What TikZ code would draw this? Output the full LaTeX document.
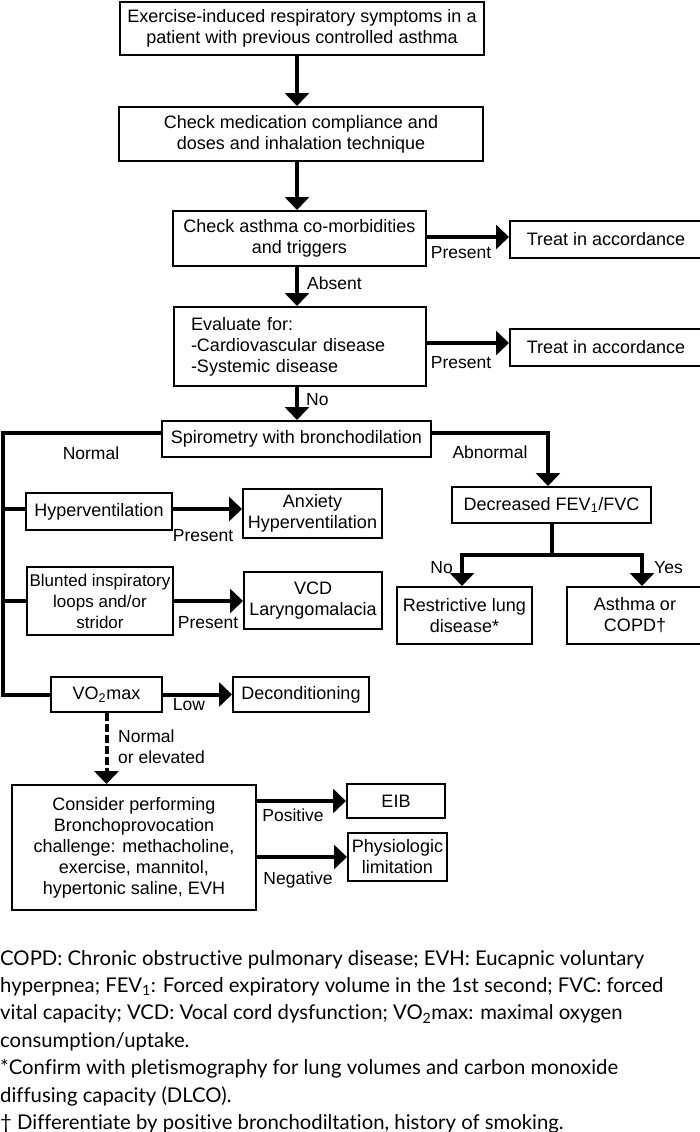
\documentclass[tikz,border=0pt]{standalone}
\usepackage{fontspec}
\setmainfont{Liberation Sans}
\newfontfamily\notefont[Ligatures=NoCommon]{Lato}
\usetikzlibrary{arrows.meta}

\begin{document}
\begin{tikzpicture}[x=1pt, y=-1pt,
  box/.style={draw, line width=2pt, inner sep=0pt, align=center, font=\fontsize{18}{21}\selectfont},
  flow/.style={line width=4pt, -{Triangle[length=13pt,width=24pt]}},
  rail/.style={line width=4pt},
  lbl/.style={inner sep=0pt, font=\fontsize{17.5}{21}\selectfont}]
\useasboundingbox (0,0) rectangle (700,1132);
\clip (0,0) rectangle (700,1132);
\coordinate (colx) at (297,0);
\coordinate (railx) at (3,0);

% main column
\node[box, minimum width=364pt, minimum height=53pt] (start) at (302,28.5) {Exercise-induced respiratory symptoms in a\\patient with previous controlled asthma};
\node[box, minimum width=364pt, minimum height=54pt] (comply) at (301,134) {Check medication compliance and\\doses and inhalation technique};
\node[box, minimum width=253pt, minimum height=55pt] (comorb) at (299.5,238.5) {Check asthma co-morbidities\\and triggers};
\node[box, minimum width=192pt, minimum height=37pt] (treatA) at (606,239.5) {Treat in accordance};
\node[box, align=left, text width=218pt, inner xsep=17pt, minimum height=79pt] (evalfor) at (300,346.5) {Evaluate for:\\-Cardiovascular disease\\-Systemic disease};
\node[box, minimum width=192pt, minimum height=37pt] (treatB) at (606,347.5) {Treat in accordance};
\node[box, minimum width=269pt, minimum height=36pt] (spiro) at (296.5,439) {Spirometry with bronchodilation};

% abnormal branch
\node[box, minimum width=199pt, minimum height=36pt] (decr) at (551.5,505) {Decreased FEV\textsubscript{1}/FVC};
\node[box, minimum width=135pt, minimum height=57pt] (restr) at (464.5,615.5) {Restrictive lung\\disease*};
\node[box, minimum width=136pt, minimum height=57pt] (asthma) at (635,615.5) {Asthma or\\COPD†};

% normal branch
\node[box, minimum width=146pt, minimum height=37pt] (hyper) at (99,511.5) {Hyperventilation};
\node[box, minimum width=139pt, minimum height=49pt] (anxiety) at (312.5,513.5) {Anxiety\\Hyperventilation};
\node[box, minimum width=146pt, minimum height=68pt, font=\fontsize{17}{21}\selectfont] (blunted) at (100,601) {Blunted inspiratory\\loops and/or\\stridor};
\node[box, minimum width=138pt, minimum height=57pt] (vcd) at (313,600.5) {VCD\\Laryngomalacia};
\node[box, minimum width=111pt, minimum height=35pt] (vomax) at (106.5,694.5) {VO\textsubscript{2}max};
\node[box, minimum width=136pt, minimum height=35pt] (decond) at (301,694.5) {Deconditioning};
\node[box, minimum width=244pt, minimum height=125pt] (consider) at (134,847.5) {Consider performing\\Bronchoprovocation\\challenge: methacholine,\\exercise, mannitol,\\hypertonic saline, EVH};
\node[box, minimum width=98pt, minimum height=34pt] (eib) at (396,801) {EIB};
\node[box, minimum width=99pt, minimum height=48pt] (phys) at (397.5,857) {Physiologic\\limitation};

% connectors
\draw[flow] (start.south -| colx) -- (comply.north -| colx);
\draw[flow] (comply.south -| colx) -- (comorb.north -| colx);
\draw[flow] (comorb.south -| colx) -- (evalfor.north -| colx);
\draw[flow] (evalfor.south -| colx) -- (spiro.north -| colx);
\draw[flow] ([yshift=1.5pt]comorb.east) -- ([yshift=1.5pt]comorb.east -| treatA.west);
\draw[flow] ([yshift=3.5pt]evalfor.east) -- ([yshift=3.5pt]evalfor.east -| treatB.west);

\draw[flow] ([yshift=6pt]spiro.east) -| ([xshift=-3.5pt]decr.north);
\draw[rail] (decr.south) -- ++(0,31) coordinate (split);
\draw[flow] (split) -| ([xshift=-2.5pt]restr.north);
\draw[flow] (split) -| ([xshift=7pt]asthma.north);

\draw[rail] ([yshift=6pt]spiro.west) -- ([yshift=6pt]spiro.west -| railx) -- (vomax.west -| railx) -- (vomax.west);
\draw[rail] ([yshift=2.5pt]hyper.west -| railx) -- ([yshift=2.5pt]hyper.west);
\draw[rail] (blunted.west -| railx) -- (blunted.west);
\draw[flow] ([yshift=2.5pt]hyper.east) -- ([yshift=2.5pt]hyper.east -| anxiety.west);
\draw[flow] (blunted.east) -- (blunted.east -| vcd.west);
\draw[flow] (vomax.east) -- (decond.west);
\draw[flow, dash pattern=on 8pt off 3pt] (vomax.south) -- (consider.north -| vomax.south);
\draw[flow] (eib.west -| consider.east) -- (eib.west);
\draw[flow] (phys.west -| consider.east) -- (phys.west);

% labels
\node[lbl] (presA) at (461,253) {Present};
\node[lbl] (presB) at (461,363) {Present};
\node[lbl, anchor=west] (absent) at (307,283) {Absent};
\node[lbl, anchor=west] (noA) at (306,400) {No};
\node[lbl] (normA) at (91,453) {Normal};
\node[lbl] (abnorm) at (490,452) {Abnormal};
\node[lbl] (presC) at (203,536) {Present};
\node[lbl] (presD) at (208,623) {Present};
\node[lbl, anchor=east] (noB) at (453,568) {No};
\node[lbl, anchor=west] (yes) at (654,568) {Yes};
\node[lbl] (low) at (189,705) {Low};
\node[lbl, anchor=west, align=left] (normB) at (118,746.5) {Normal\\or elevated};
\node[lbl] (pos) at (293,815) {Positive};
\node[lbl] (neg) at (298,880) {Negative};

% footnotes
\node[anchor=north west, inner sep=0pt, align=left, font=\notefont\fontsize{20.3}{27.4}\selectfont] (notes) at (0,950) {COPD: Chronic obstructive pulmonary disease; EVH: Eucapnic voluntary\\hyperpnea; FEV\textsubscript{1}: Forced expiratory volume in the 1st second; FVC: forced\\vital capacity; VCD: Vocal cord dysfunction; VO\textsubscript{2}max: maximal oxygen\\consumption/uptake.\\{*}Confirm with pletismography for lung volumes and carbon monoxide\\diffusing capacity (DLCO).\\† Differentiate by positive bronchodiltation, history of smoking.};
\end{tikzpicture}
\end{document}
